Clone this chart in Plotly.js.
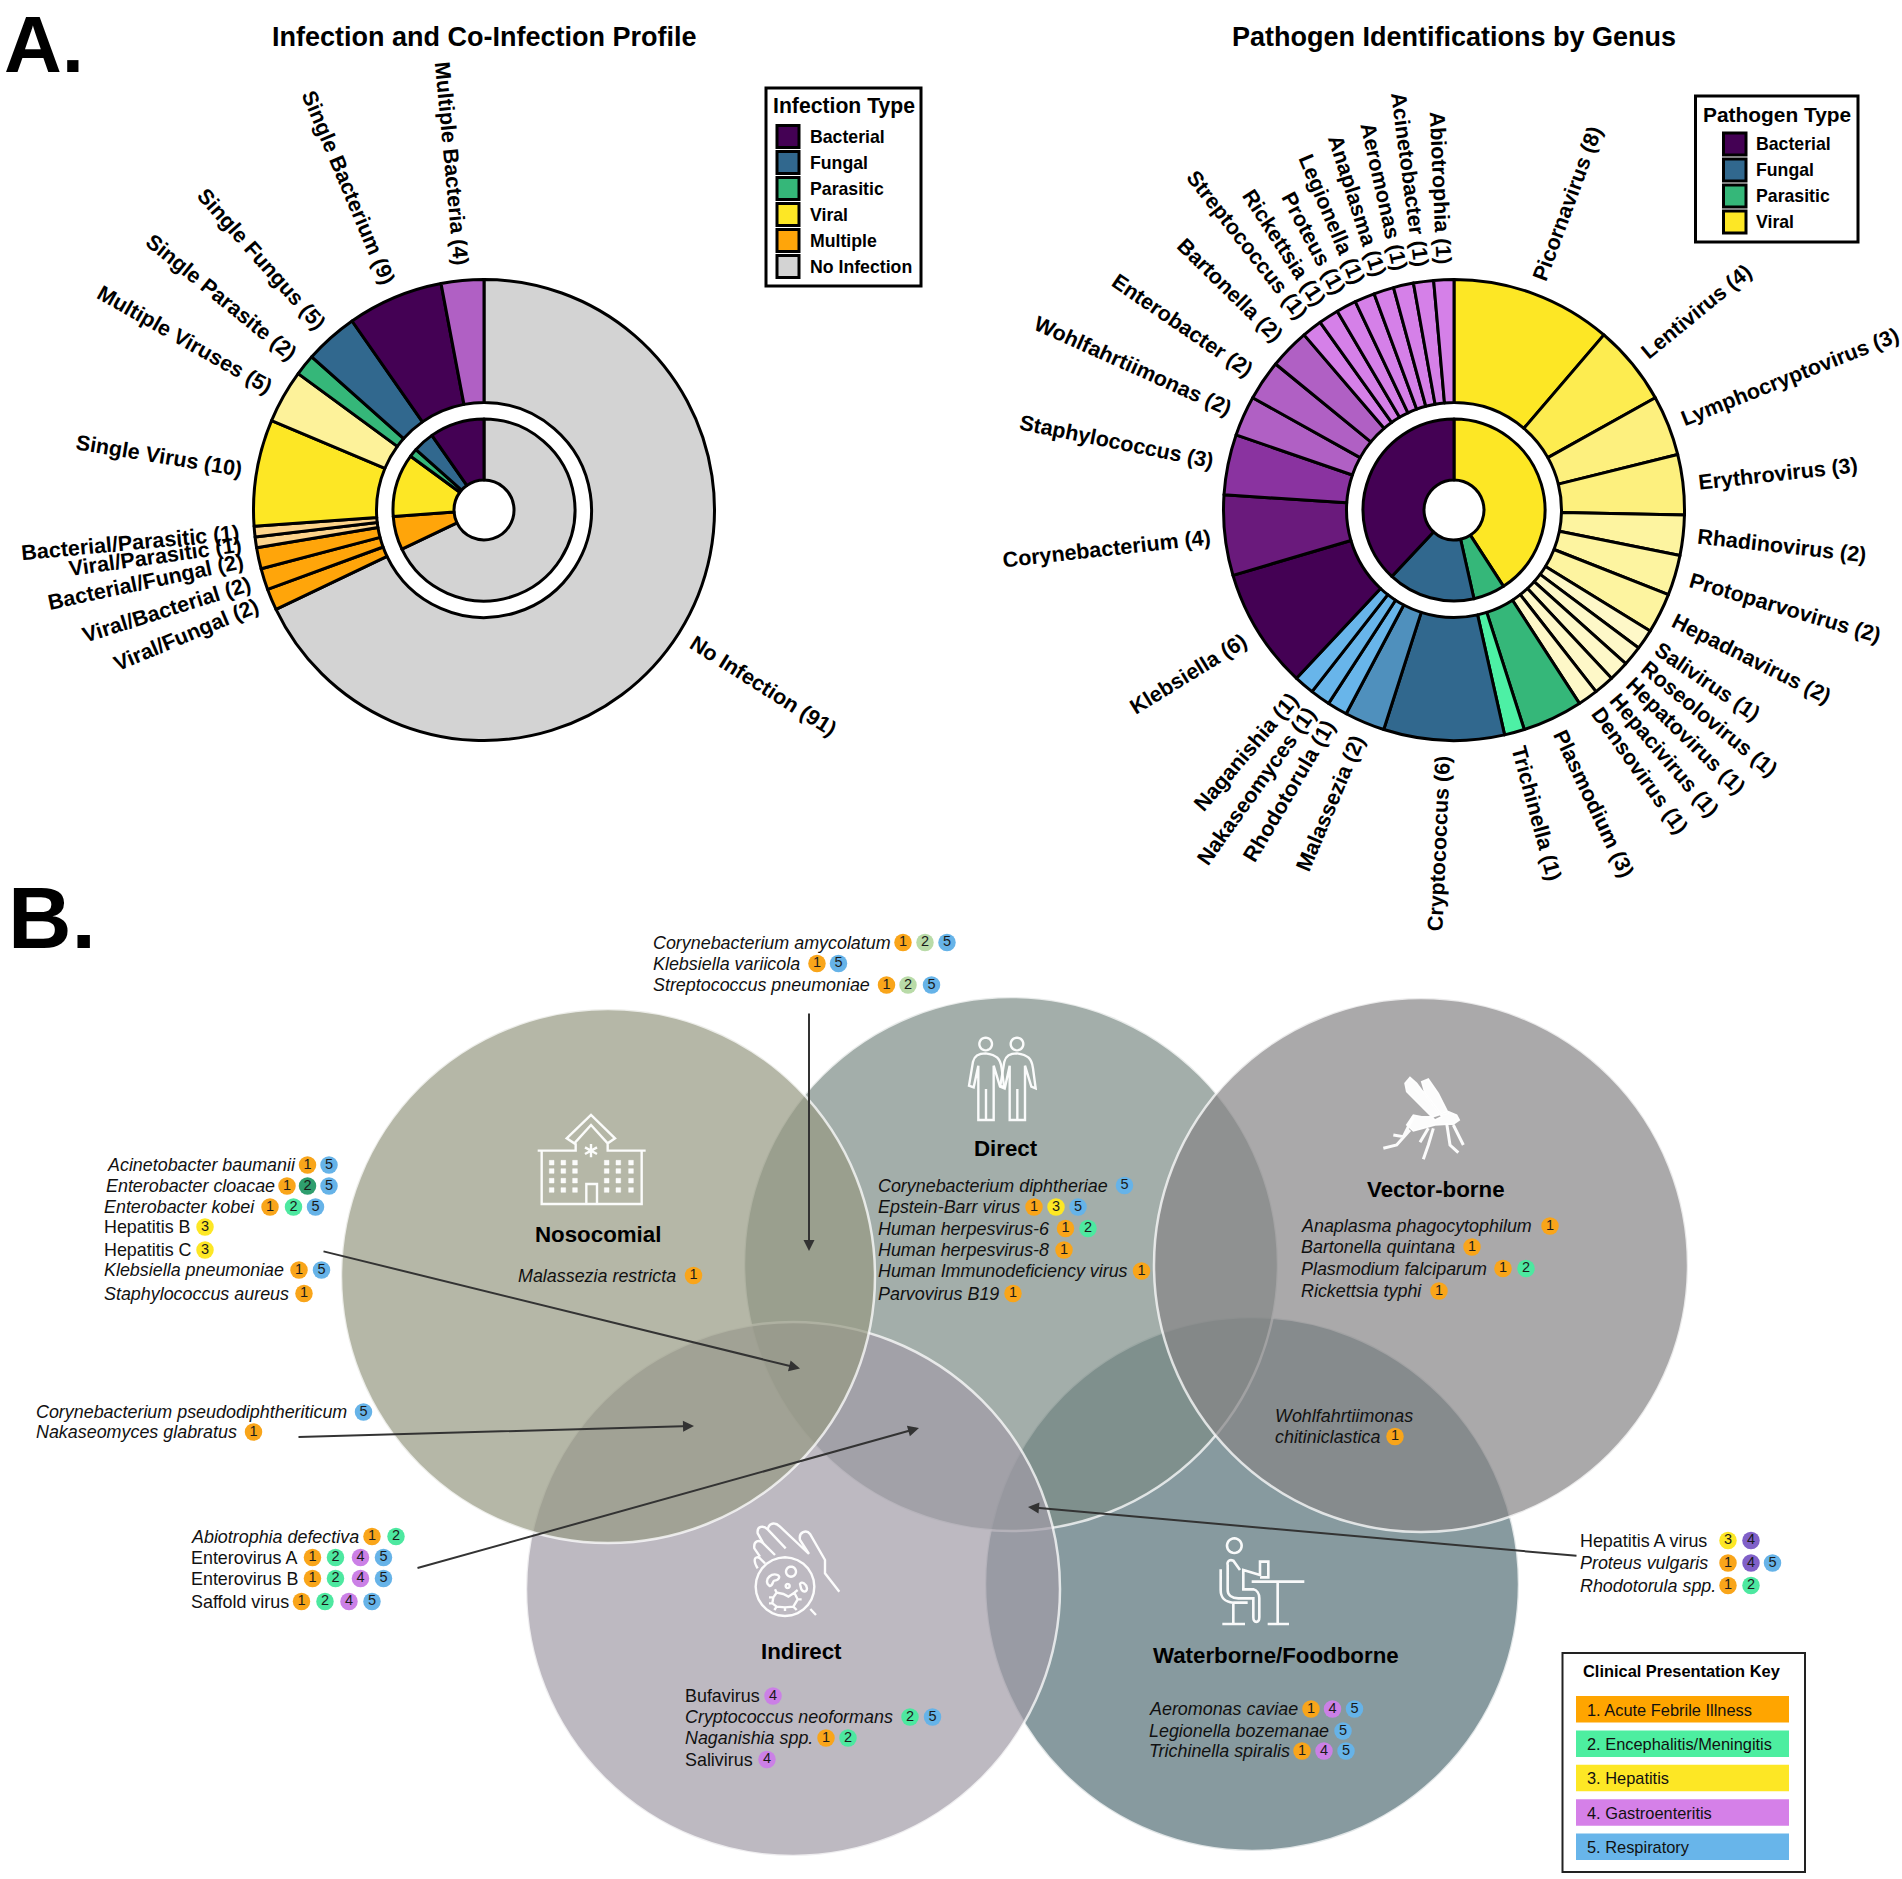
<!DOCTYPE html>
<html><head><meta charset="utf-8">
<script src="https://cdn.plot.ly/plotly-3.0.1.min.js"></script>
<style>html,body{margin:0;padding:0;background:#fff}#c{width:1902px;height:1879px}</style>
</head><body><div id="c"></div>
<script>
const W=1902,H=1879,FONT='"Liberation Sans", Arial, sans-serif';

// ---------- Panel A data ----------
const profileLabels=['No Infection','Viral/Fungal','Viral/Bacterial','Bacterial/Fungal','Viral/Parasitic','Bacterial/Parasitic','Single Virus','Multiple Viruses','Single Parasite','Single Fungus','Single Bacterium','Multiple Bacteria'];
const profileValues=[91,2,2,2,1,1,10,5,2,5,9,4];
const profileColors=['#d3d3d3','#ffa50a','#ffa50a','#ffa50a','#fdd48c','#fdd48c','#fde725','#fdf29a','#35b779','#31688e','#440154','#b060c4'];
const infectionTypes=['No Infection','Multiple','Viral','Parasitic','Fungal','Bacterial'];
const infectionCounts=[91,8,15,2,5,13];
const infectionColors=['#d3d3d3','#ffa50a','#fde725','#35b779','#31688e','#440154'];

const genusLabels=['Picornavirus','Lentivirus','Lymphocryptovirus','Erythrovirus','Rhadinovirus','Protoparvovirus','Hepadnavirus','Salivirus','Roseolovirus','Hepatovirus','Hepacivirus','Densovirus','Plasmodium','Trichinella','Cryptococcus','Malassezia','Rhodotorula','Nakaseomyces','Naganishia','Klebsiella','Corynebacterium','Staphylococcus','Wohlfahrtiimonas','Enterobacter','Bartonella','Streptococcus','Rickettsia','Proteus','Legionella','Anaplasma','Aeromonas','Acinetobacter','Abiotrophia'];
const genusValues=[8,4,3,3,2,2,2,1,1,1,1,1,3,1,6,2,1,1,1,6,4,3,2,2,2,1,1,1,1,1,1,1,1];
const genusGroup=['V','V','V','V','V','V','V','V','V','V','V','V','P','P','F','F','F','F','F','B','B','B','B','B','B','B','B','B','B','B','B','B','B'];
const genusShades={V:{8:'#fde725',4:'#fdec50',3:'#fdf07e',2:'#fdf4a0',1:'#fef8c8'},P:{3:'#35b779',1:'#4df0a5'},F:{6:'#31688e',2:'#4f90bd',1:'#68b5ea'},B:{6:'#440154',4:'#6a1a7c',3:'#8a33a0',2:'#b060c4',1:'#d580e8'}};
const pathogenTypes=['Viral','Parasitic','Fungal','Bacterial'];
const pathogenCounts=[29,4,11,27];
const pathogenColors=['#fde725','#35b779','#31688e','#440154'];

const legendLeftNames=['Bacterial','Fungal','Parasitic','Viral','Multiple','No Infection'];
const legendLeftColors=['#440154','#31688e','#35b779','#fde725','#ffa50a','#d3d3d3'];
const legendRightNames=['Bacterial','Fungal','Parasitic','Viral'];
const legendRightColors=['#440154','#31688e','#35b779','#fde725'];

// ---------- Panel B data ----------
const vennNames=['Waterborne/Foodborne','Direct','Vector-borne','Indirect','Nosocomial'];
const vennColors=['rgba(84,111,118,0.7)','rgba(124,139,134,0.7)','rgba(134,132,134,0.7)','rgba(161,155,166,0.7)','rgba(149,152,129,0.7)'];
const vennCentres=[[1252,1584],[1011,1264],[1421,1265],[793,1589],[608,1276]];
const vennRadius=267;
const vennTitlePos=[[1275.5,1655],[1005.5,1148],[1436,1189],[801,1651],[598,1234.5]];

const speciesNames=['Corynebacterium amycolatum','Klebsiella variicola','Streptococcus pneumoniae',
'Acinetobacter baumanii','Enterobacter cloacae','Enterobacter kobei','Hepatitis B','Hepatitis C','Klebsiella pneumoniae','Staphylococcus aureus',
'Corynebacterium pseudodiphtheriticum','Nakaseomyces glabratus',
'Abiotrophia defectiva','Enterovirus A','Enterovirus B','Saffold virus',
'Malassezia restricta',
'Bufavirus','Cryptococcus neoformans','Naganishia spp.','Salivirus',
'Corynebacterium diphtheriae','Epstein-Barr virus','Human herpesvirus-6','Human herpesvirus-8','Human Immunodeficiency virus','Parvovirus B19',
'Anaplasma phagocytophilum','Bartonella quintana','Plasmodium falciparum','Rickettsia typhi',
'Wohlfahrtiimonas','chitiniclastica',
'Aeromonas caviae','Legionella bozemanae','Trichinella spiralis',
'Hepatitis A virus','Proteus vulgaris','Rhodotorula spp.'];
const speciesRoman=['Hepatitis B','Hepatitis C','Enterovirus A','Enterovirus B','Saffold virus','Bufavirus','Salivirus','Hepatitis A virus'];
const speciesX=[653,653,653,107,105.5,104,104,104,104,104,36,36,190.5,190.5,190.5,190.5,518,684.5,684.5,684.5,684.5,878,878,878,878,878,878,1301,1301,1301,1301,1274.5,1274.5,1149,1149,1149,1580,1580,1580];
const speciesY=[942.5,963.5,985,1165,1186,1207,1227,1250,1270,1293.5,1412,1432,1536.5,1557.5,1578.5,1601.5,1275.5,1696,1717,1738,1759.5,1185.5,1207,1228.5,1250,1271,1293.5,1226,1247,1268.5,1291,1416,1436.5,1709,1731,1751,1540.5,1563,1585.5];
const speciesBadges=[['1','2p','5'],['1','5'],['1','2p','5'],['1','5'],['1','2d','5'],['1','2','5'],['3'],['3'],['1','5'],['1'],['5'],['1'],['1','2'],['1','2','4','5'],['1','2','4','5'],['1','2','4','5'],['1'],['4'],['2','5'],['1','2'],['4'],['5'],['1','3','5'],['1','2'],['1'],['1'],['1'],['1'],['1'],['1','2'],['1'],[],['1'],['1','4','5'],['5'],['1','4','5'],['3','4d'],['1','4d','5'],['1','2']];
const speciesBadgeX=[[903,925,947],[817,838.5],[886.5,908,931.5],[307.5,329],[287,307.5,329],[270,293.5,315.5],[205],[205],[299,321.5],[304],[363.5],[253.5],[372,396],[312.5,335.5,360.5,383.5],[312.5,335.5,360.5,383.5],[301.5,325,349,372],[693.5],[773],[910,932.5],[826,848],[767],[1124.5],[1034,1056,1078],[1065.5,1088],[1064],[1141.5],[1013],[1550],[1472],[1503,1526],[1439],[],[1395],[1311,1332.5,1354.5],[1343],[1302,1324,1346],[1728,1751],[1728,1751,1772.5],[1728,1751]];
const badgeColors={'1':'#f9a51a','2':'#4de8a0','2p':'#b9dba8','2d':'#2f9e6e','3':'#fde725','4':'#cb80e6','4d':'#8060c8','5':'#66b3e8'};

const arrowStart=[[809,1012],[322,1251],[297,1437],[416,1568.5],[1578,1556]];
const arrowEnd=[[809,1251],[800,1368.5],[694,1426],[919,1428],[1028,1507]];

const keyItems=['1. Acute Febrile Illness','2. Encephalitis/Meningitis','3. Hepatitis','4. Gastroenteritis','5. Respiratory'];
const keyColors=['#ffa500','#4deea0','#fde725','#d580e8','#68b5ea'];

// ---------- helpers ----------
const annotations=[],shapes=[];
function txt(x,y,text,size,o){annotations.push(Object.assign({xref:'x',yref:'y',x,y,text,showarrow:false,xanchor:'left',yanchor:'middle',font:{family:FONT,size,color:'#000'},borderpad:0,borderwidth:0},o||{}));}
const ctx=document.createElement('canvas').getContext('2d');
function radialLabels(labels,values,cx,cy,R,gap,size){
  ctx.font='bold '+size+'px "Liberation Sans"';
  const tot=values.reduce((a,b)=>a+b,0);let c=0;
  labels.forEach((l,i)=>{
    const th=(c+values[i]/2)/tot*360;c+=values[i];
    const t=l+' ('+values[i]+')',w=ctx.measureText(t).width,rad=th*Math.PI/180,d=R+gap+w/2;
    const ang=th<=180?th-90:th-270;
    txt(cx+d*Math.sin(rad),cy-d*Math.cos(rad),'<b>'+t+'</b>',size,{textangle:ang,xanchor:'center'});
  });
}
function pie(labels,values,colors,cx,cy,R,rHole){
  return {type:'pie',labels,values,sort:false,direction:'clockwise',rotation:0,hole:rHole/R,textinfo:'none',hoverinfo:'label+value',
    marker:{colors,line:{color:'#000',width:3}},showlegend:false,
    domain:{x:[(cx-R)/W,(cx+R)/W],y:[1-(cy+R)/H,1-(cy-R)/H]}};
}
function legendBox(x0,y0,x1,y1,title,tx,ty,titleSize,names,colors,sx0,sx1,rowY,rowH,labelX){
  shapes.push({type:'rect',xref:'x',yref:'y',x0,y0,x1,y1,line:{color:'#000',width:3},fillcolor:'#fff'});
  txt(tx,ty,'<b>'+title+'</b>',titleSize,{xanchor:'center'});
  names.forEach((n,i)=>{
    const yc=rowY+i*rowH;
    shapes.push({type:'rect',xref:'x',yref:'y',x0:sx0,x1:sx1,y0:yc-11,y1:yc+11,line:{color:'#000',width:3},fillcolor:colors[i]});
    txt(labelX,yc,'<b>'+n+'</b>',17.7);
  });
}
function iconPath(ox,oy,path,fill,width){ // path given in crop px (3x); scaled to page coordinates
  const mapped=path.replace(/(-?[\d.]+),(-?[\d.]+)/g,(m,a,b)=>(ox+a/3).toFixed(2)+','+(oy+b/3).toFixed(2));
  shapes.push({type:'path',xref:'x',yref:'y',path:mapped,fillcolor:fill||'rgba(0,0,0,0)',line:{color:'rgba(255,255,255,0.95)',width:width||2.4}});
}
function circ(x,y,r){let s='';for(let i=0;i<28;i++){const a=i/28*2*Math.PI;s+=(i?'L':'M')+(x+r*Math.cos(a)).toFixed(1)+','+(y+r*Math.sin(a)).toFixed(1)+' ';}return s+'Z ';}

// ---------- Panel A ----------
const cL=[484,510],cR=[1454,510],RO=230.5,RM=107.5,RI=91,RH=30;
const traces=[
  pie(profileLabels,profileValues,profileColors,cL[0],cL[1],RO,RM),
  pie(infectionTypes,infectionCounts,infectionColors,cL[0],cL[1],RI,RH),
  pie(genusLabels,genusValues,genusLabels.map((g,i)=>genusShades[genusGroup[i]][genusValues[i]]),cR[0],cR[1],RO,RM),
  pie(pathogenTypes,pathogenCounts,pathogenColors,cR[0],cR[1],RI,RH)
];
radialLabels(profileLabels,profileValues,cL[0],cL[1],RO,15,21.5);
radialLabels(genusLabels,genusValues,cR[0],cR[1],RO,15,21.5);
txt(484,37,'<b>Infection and Co-Infection Profile</b>',27,{xanchor:'center'});
txt(1453.5,37,'<b>Pathogen Identifications by Genus</b>',27,{xanchor:'center'});
txt(4,0,'<b>A.</b>',80,{yanchor:'top'});
txt(8,917,'<b>B.</b>',88);
legendBox(766,88,921,286,'Infection Type',843.5,106,21.2,legendLeftNames,legendLeftColors,777,799,136.5,26,809.5);
legendBox(1695.5,96,1858,242,'Pathogen Type',1776.5,114,20.9,legendRightNames,legendRightColors,1723.5,1746,144,26,1756);

// ---------- Panel B ----------
vennNames.forEach((n,i)=>{
  const [x,y]=vennCentres[i];
  shapes.push({type:'circle',xref:'x',yref:'y',x0:x-vennRadius,x1:x+vennRadius,y0:y-vennRadius,y1:y+vennRadius,fillcolor:vennColors[i],line:{color:'rgba(255,255,255,0.75)',width:2.5},layer:'below'});
  txt(vennTitlePos[i][0],vennTitlePos[i][1],'<b>'+n+'</b>',22.3,{xanchor:'center'});
});
speciesNames.forEach((n,i)=>{
  txt(speciesX[i],speciesY[i],speciesRoman.includes(n)?n:'<i>'+n+'</i>',17.9,{font:{family:FONT,size:17.9,color:'#111'}});
});
const bx=[],by=[],bt=[],bc=[];
speciesBadges.forEach((list,i)=>list.forEach((code,j)=>{bx.push(speciesBadgeX[i][j]);by.push(speciesY[i]);bt.push(code[0]);bc.push(badgeColors[code]);}));
traces.push({type:'scatter',mode:'markers+text',x:bx,y:by,text:bt,textposition:'middle center',textfont:{family:FONT,size:14.5,color:'#1a1a1a'},marker:{size:17.5,color:bc,line:{width:0}},hoverinfo:'text',showlegend:false});
arrowStart.forEach((s,i)=>annotations.push({xref:'x',yref:'y',axref:'x',ayref:'y',x:arrowEnd[i][0],y:arrowEnd[i][1],ax:s[0],ay:s[1],text:'',showarrow:true,arrowhead:2,arrowsize:1.1,arrowwidth:2,arrowcolor:'#333',standoff:0,startstandoff:0}));

// key
shapes.push({type:'rect',xref:'x',yref:'y',x0:1562.5,x1:1805,y0:1653,y1:1872,line:{color:'#222',width:2},fillcolor:'#fff'});
txt(1682,1671,'<b>Clinical Presentation Key</b>',16.4,{xanchor:'center'});
keyItems.forEach((k,i)=>{
  const y=1696+i*34.4;
  shapes.push({type:'rect',xref:'x',yref:'y',x0:1576,x1:1789,y0:y,y1:y+26.5,fillcolor:keyColors[i],line:{width:0}});
  txt(1587,y+13.5,k,16.4,{font:{family:FONT,size:16.4,color:'#111'}});
});

// icons (crop px)
// hospital
iconPath(525,1100,'M38,152 L152,152 L152,130 M125,115 L198,45 L270,115 L248,130 L198,75 L148,130 Z M248,130 L248,152 L362,152 M50,152 L50,312 L350,312 L350,152 M184,312 L184,252 L216,252 L216,312 M198,132 L198,172 M180,142 L216,162 M216,142 L180,162');
let win='';[188,213,242,270].forEach(y=>[80,115,150,245,280,318].forEach(x=>{win+=`M${x-7},${y-7} L${x+7},${y-7} L${x+7},${y+7} L${x-7},${y+7} Z `;}));
iconPath(525,1100,win,'rgba(255,255,255,0.95)',0.5);
// people
[0,94].forEach(d=>iconPath(955,1025,circ(92+d,57,19)+`M${92+d},85 C${70+d},85 ${58+d},92 ${54+d},110 L${42+d},182 L${56+d},187 L${70+d},122 L${70+d},285 L${116+d},285 L${116+d},122 L${135+d},185 L${148+d},190 L${140+d},130 C${136+d},100 ${125+d},90 ${92+d},85 Z M${93+d},192 L${93+d},285`));
// mosquito
iconPath(1370,1065,'M105,55 L120,37 L140,55 L215,155 L195,165 L110,80 Z M155,50 L175,42 L205,85 L235,145 L215,150 L165,85 Z M110,180 L130,150 L155,155 L190,155 L235,140 L260,150 L268,165 L250,178 L235,178 L195,180 L160,190 L130,198 Z','rgba(255,255,255,0.97)',1.5);
iconPath(1370,1065,'M130,155 L100,215 L70,210 M120,195 L80,240 L40,250 M175,190 L150,232 M190,190 L175,240 L160,283 M230,175 L240,240 L265,263 M250,180 L280,240',null,3);
// hand with dish
iconPath(745,1510,circ(120,230,88)+circ(138,185,15)+circ(128,228,6)+'M38,175 C22,150 30,135 45,145 L60,160 M45,140 L28,115 C25,92 42,88 55,100 L90,135 M55,100 L38,70 C35,48 55,45 68,58 L122,115 M68,60 C70,38 90,35 105,50 L192,132 M192,132 L165,90 C160,65 185,58 195,72 L240,150 L240,190 L283,245 M196,297 L213,315 M68,222 C60,205 80,188 98,195 C108,200 100,212 88,212 C82,214 84,228 74,228 Z M165,222 C170,212 184,222 186,235 C186,250 170,245 168,235 Z M85,262 L95,248 L115,252 L130,260 L148,248 L158,268 L145,290 L120,292 L95,290 L82,280 Z M72,262 L85,262 M72,280 L82,280 M95,248 L90,238 M148,248 L158,240 M158,268 L170,268 M145,290 L155,300 M120,292 L120,303 M95,290 L88,300');
// person at table
iconPath(1205,1530,circ(88,47,22)+'M105,120 L85,92 C70,86 66,98 68,105 L68,180 C68,195 80,205 100,205 L145,205 L145,262 C145,280 163,280 163,262 L163,205 C163,190 155,180 145,178 L115,178 L115,120 L165,135 L165,95 L190,95 L190,142 L165,142 M47,118 L47,180 C47,205 60,215 85,218 L128,218 M85,218 L85,282 M52,282 L120,282 M140,155 L298,155 M218,155 L218,282 M188,282 L252,282',null,2.6);

const layout={width:W,height:H,margin:{l:0,r:0,t:0,b:0,pad:0},paper_bgcolor:'#fff',plot_bgcolor:'rgba(0,0,0,0)',showlegend:false,
  xaxis:{range:[0,W],visible:false,fixedrange:true,domain:[0,1]},
  yaxis:{range:[H,0],visible:false,fixedrange:true,domain:[0,1]},
  annotations,shapes,font:{family:FONT}};
Plotly.newPlot('c',traces,layout,{displayModeBar:false,responsive:false});
</script></body></html>
